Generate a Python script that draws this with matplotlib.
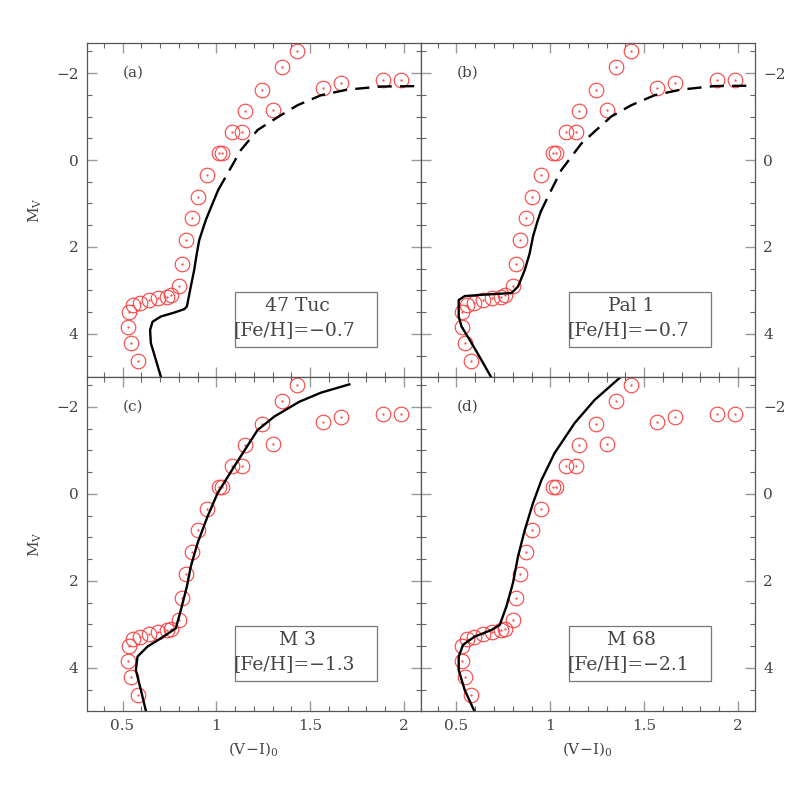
import numpy as np
import matplotlib
matplotlib.use('Agg')
import matplotlib.pyplot as plt
from matplotlib.ticker import MultipleLocator, FuncFormatter
from matplotlib.patches import Rectangle

plt.rcParams['font.family'] = ['DejaVu Serif']
plt.rcParams['mathtext.fontset'] = 'custom'
plt.rcParams['mathtext.rm'] = 'DejaVu Serif'
plt.rcParams['mathtext.it'] = 'DejaVu Serif'

# observed points (same in every panel)
vi_obs = [1.430, 1.350, 1.243, 1.568, 1.664, 1.887, 1.984, 1.154, 1.302, 1.083,
          1.138, 1.012, 1.031, 0.950, 0.900, 0.870, 0.841, 0.816, 0.799, 0.758,
          0.736, 0.690, 0.642, 0.594, 0.557, 0.532, 0.527, 0.544, 0.580]
mv_obs = [-2.51, -2.14, -1.62, -1.66, -1.76, -1.84, -1.85, -1.13, -1.15, -0.64,
          -0.64, -0.15, -0.15, 0.34, 0.84, 1.34, 1.84, 2.39, 2.89, 3.10,
          3.14, 3.17, 3.22, 3.30, 3.33, 3.50, 3.85, 4.21, 4.62]

# 47 Tuc fiducial
tuc_vi = [0.704, 0.678, 0.651, 0.647, 0.660, 0.704, 0.775, 0.829, 0.843, 0.864,
          0.882, 0.896, 0.909, 0.944, 0.980, 1.010]
tuc_mv = [4.98, 4.60, 4.21, 3.91, 3.72, 3.60, 3.51, 3.43, 3.37, 2.91,
          2.53, 2.15, 1.84, 1.38, 1.00, 0.69]
tuc_agb_vi = [1.010, 1.060, 1.131, 1.220, 1.344, 1.433, 1.558, 1.700, 1.878, 2.091]
tuc_agb_mv = [0.69, 0.31, -0.23, -0.69, -1.03, -1.26, -1.49, -1.62, -1.69, -1.70]

# Pal 1
pal_vi = [0.683, 0.633, 0.571, 0.527, 0.512, 0.512, 0.544, 0.633, 0.793, 0.828,
          0.864, 0.890, 0.908, 0.931, 0.949]
pal_mv = [4.98, 4.60, 4.14, 3.83, 3.60, 3.22, 3.13, 3.10, 3.06, 2.91,
          2.53, 2.15, 1.76, 1.42, 1.19]
pal_agb_vi = [0.949, 0.988, 1.059, 1.166, 1.325, 1.432, 1.556, 1.698, 1.875, 2.088]
pal_agb_mv = [1.19, 0.84, 0.23, -0.38, -1.00, -1.26, -1.49, -1.62, -1.70, -1.71]

# M 3
m3_vi = [0.624, 0.598, 0.571, 0.580, 0.633, 0.704, 0.784, 0.811, 0.843, 0.864,
         0.900, 0.953, 1.007, 1.095, 1.220, 1.309, 1.442, 1.558, 1.709]
m3_mv = [4.98, 4.51, 4.05, 3.74, 3.51, 3.32, 3.09, 2.67, 2.13, 1.67,
         1.13, 0.52, -0.02, -0.63, -1.47, -1.78, -2.12, -2.33, -2.52]

# M 68
m68_vi = [0.594, 0.544, 0.512, 0.512, 0.535, 0.597, 0.686, 0.731, 0.766, 0.801,
          0.828, 0.864, 0.908, 0.953, 1.023, 1.130, 1.236, 1.370]
m68_mv = [4.98, 4.51, 4.05, 3.74, 3.47, 3.28, 3.13, 3.01, 2.59, 2.05,
          1.44, 0.83, 0.21, -0.32, -0.94, -1.63, -2.16, -2.67]

panels = [
    ('(a)', '47 Tuc', '[Fe/H]=\u22120.7', (tuc_vi, tuc_mv), (tuc_agb_vi, tuc_agb_mv)),
    ('(b)', 'Pal 1', '[Fe/H]=\u22120.7', (pal_vi, pal_mv), (pal_agb_vi, pal_agb_mv)),
    ('(c)', 'M 3', '[Fe/H]=\u22121.3', (m3_vi, m3_mv), None),
    ('(d)', 'M 68', '[Fe/H]=\u22122.1', (m68_vi, m68_mv), None),
]

txt = '#444444'
fmt = FuncFormatter(lambda v, p: ('%g' % v).replace('-', '\u2212'))

fig, axs = plt.subplots(2, 2, figsize=(7.97, 7.97), dpi=100)
plt.subplots_adjust(left=0.109, right=0.947, bottom=0.108, top=0.946,
                    wspace=0, hspace=0)

for i, (ax, (tag, name, feh, solid, dashed)) in enumerate(zip(axs.flat, panels)):
    row, col = divmod(i, 2)
    ax.plot(vi_obs, mv_obs, 'o', mfc='none', mec='#ff4040', ms=10.5, mew=0.8)
    ax.plot(vi_obs, mv_obs, '.', color='#ff4040', ms=1.2)
    ax.plot(solid[0], solid[1], '-', color='k', lw=1.7)
    if dashed is not None:
        ax.plot(dashed[0], dashed[1], color='k', lw=1.7, dashes=(6, 3.5))

    ax.set_xlim(0.31, 2.09)
    ax.set_ylim(4.99, -2.69)
    ax.xaxis.set_major_locator(MultipleLocator(0.5))
    ax.xaxis.set_minor_locator(MultipleLocator(0.1))
    ax.yaxis.set_major_locator(MultipleLocator(2))
    ax.yaxis.set_minor_locator(MultipleLocator(0.5))
    ax.xaxis.set_major_formatter(fmt)
    ax.yaxis.set_major_formatter(fmt)
    ax.tick_params(which='both', direction='in', top=True, right=True,
                   colors='#666666', labelcolor=txt, labelsize=11)
    ax.tick_params(which='major', length=7, width=1.0, color='#999999')
    ax.tick_params(which='minor', length=3.5, width=0.8)
    ax.tick_params(axis='x', pad=6)
    for sp in ax.spines.values():
        sp.set_color('#555555')
        sp.set_linewidth(0.9)

    if row == 0:
        ax.tick_params(axis='x', labelbottom=False)
    else:
        ax.set_xlabel(r'$\mathrm{(V\!-\!I)_0}$', fontsize=11, color=txt, labelpad=5)
    if col == 0:
        ax.tick_params(axis='y', pad=6)
        ax.set_ylabel(r'$\mathrm{M_V}$', fontsize=11, color=txt, labelpad=9)
    else:
        ax.tick_params(axis='y', labelleft=False, labelright=True, pad=6)

    ax.text(0.139, 0.91, tag, transform=ax.transAxes, ha='center', va='center',
            fontsize=11, color=txt)
    ax.add_patch(Rectangle((1.10, 3.03), 0.755, 1.28, fill=False,
                           ec='#777777', lw=0.9))
    ax.text(1.433, 3.35, name, ha='center', va='center', fontsize=13.5, color=txt)
    ax.text(1.414, 3.91, feh, ha='center', va='center', fontsize=13.5, color=txt)

plt.savefig('out.png', dpi=100)
